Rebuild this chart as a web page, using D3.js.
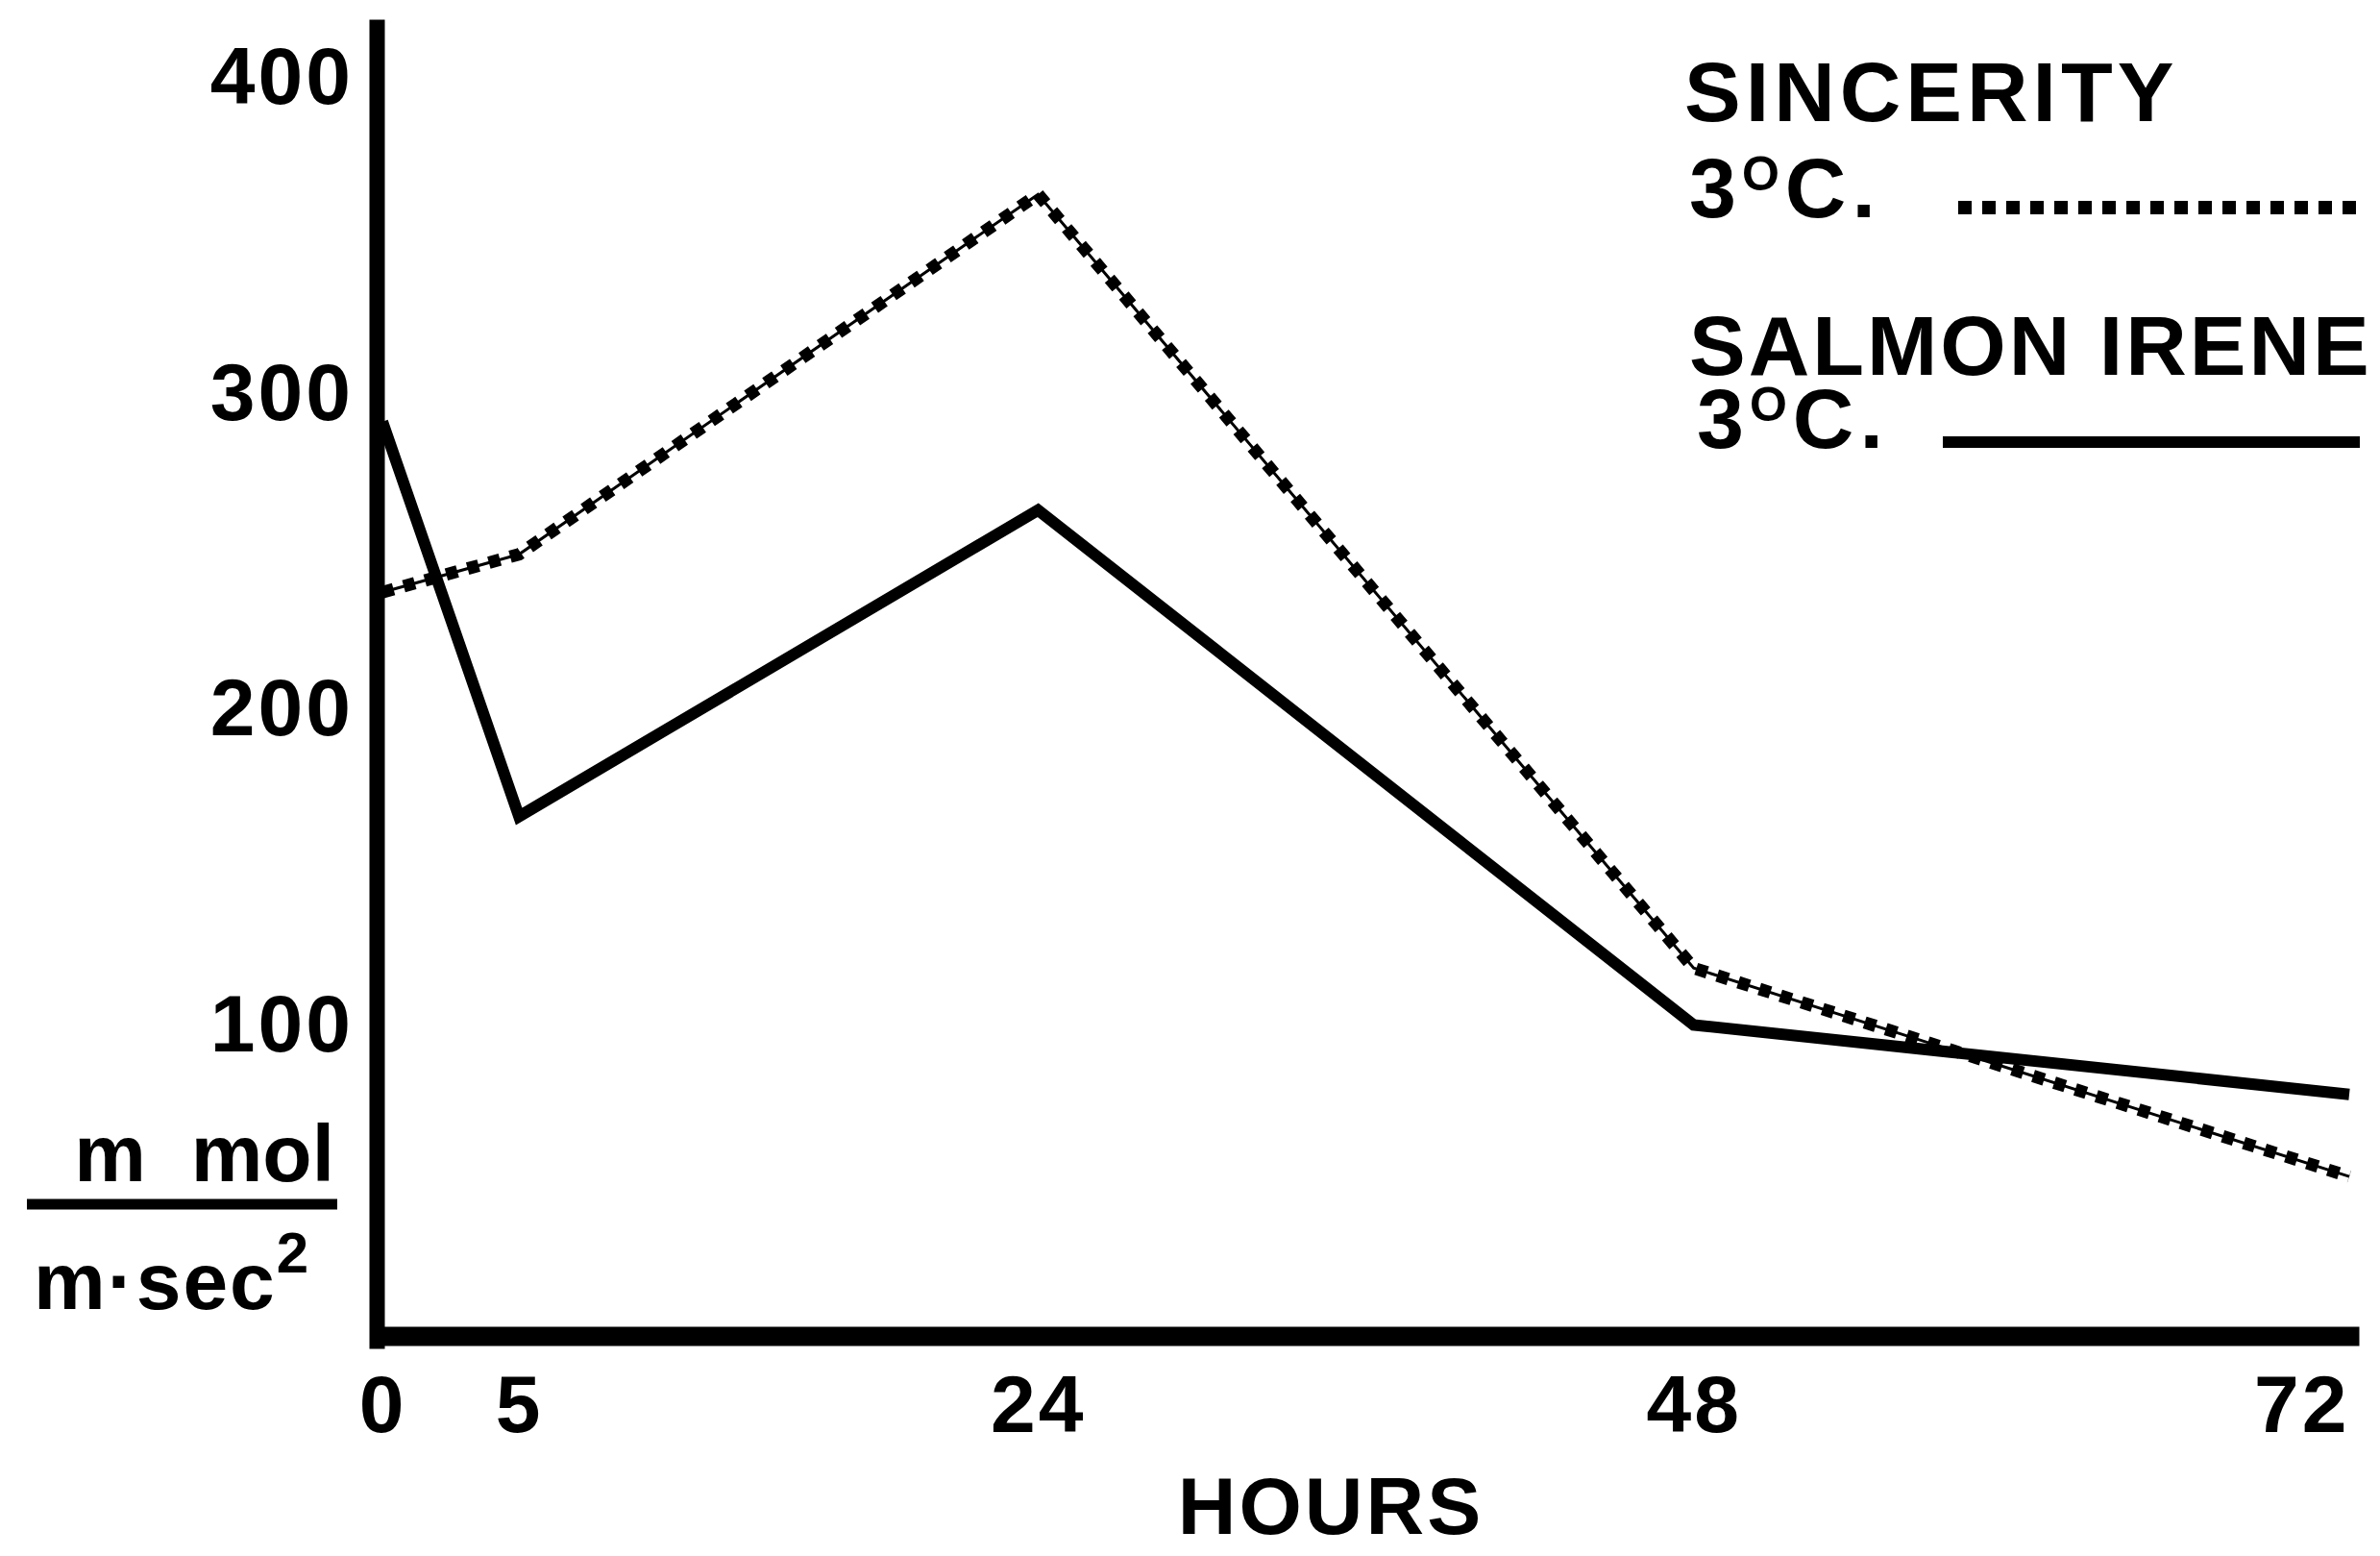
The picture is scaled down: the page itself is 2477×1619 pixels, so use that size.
<!DOCTYPE html>
<html>
<head>
<meta charset="utf-8">
<script src="https://cdn.jsdelivr.net/npm/d3@7"></script>
<style>
  body { margin: 0; background: #fff; }
  text { font-family: "Liberation Sans", Arial, Helvetica, sans-serif; fill: #000; font-weight: bold; }
</style>
</head>
<body>
<div id="chart"></div>
<script>
// values
const hours = [0, 5, 24, 48, 72];
const sincerity = [237, 249, 363, 118, 52];
const salmonIrene = [291, 166, 263, 100, 78];
const yTicks = [100, 200, 300, 400];
const xTicks = [0, 5, 24, 48, 72];
const legendNames = ["SINCERITY", "SALMON IRENE"];

const width = 2477, height = 1619;

const svg = d3.select("#chart").append("svg")
    .attr("width", width)
    .attr("height", height)
    .attr("viewBox", [0, 0, width, height]);

const xScale = d3.scaleLinear([0, 72], [398, 2445]);
const yScale = d3.scaleLinear([0, 416], [1395, 28]);

const fontSize = 84;

// y axis
const yAxis = svg.append("g")
    .attr("transform", "translate(392, 0)")
    .call(d3.axisLeft(yScale).tickValues(yTicks).tickSize(0).tickPadding(24));
yAxis.select(".domain")
    .attr("stroke", "#000")
    .attr("stroke-width", 16)
    .attr("stroke-linecap", "square");
yAxis.selectAll("text")
    .attr("font-size", fontSize)
    .attr("letter-spacing", 3)
    .attr("font-family", null);

// x axis
const xAxis = svg.append("g")
    .attr("transform", "translate(0, 1390)")
    .call(d3.axisBottom(xScale).tickValues(xTicks).tickSize(0).tickSizeOuter(0).tickPadding(40));
xAxis.select(".domain")
    .attr("stroke", "#000")
    .attr("stroke-width", 20)
    .attr("stroke-linecap", "square");
xAxis.selectAll("text")
    .attr("font-size", fontSize)
    .attr("letter-spacing", 3)
    .attr("font-family", null)
    .attr("text-anchor", d => d == 72 ? "end" : "middle");

svg.append("text")
    .attr("x", 1385)
    .attr("y", 1596)
    .attr("text-anchor", "middle")
    .attr("font-size", fontSize)
    .attr("letter-spacing", 3)
    .text("HOURS");

// unit label as a fraction
svg.append("text")
    .attr("x", 348)
    .attr("y", 1229)
    .attr("text-anchor", "end")
    .attr("font-size", fontSize)
    .style("white-space", "pre")
    .text("m  mol");

svg.append("line")
    .attr("x1", 28).attr("x2", 351)
    .attr("y1", 1253).attr("y2", 1253)
    .attr("stroke", "#000")
    .attr("stroke-width", 11);

const unitBottom = svg.append("text")
    .attr("x", 35)
    .attr("y", 1362)
    .attr("font-size", fontSize)
    .attr("letter-spacing", 2);
unitBottom.append("tspan").text("m\u00b7sec");
unitBottom.append("tspan").attr("dy", -38).attr("font-size", 60).text("2");

// series lines
const lineGen = d3.line()
    .x(d => xScale(d.hour))
    .y(d => yScale(d.value));

const toPoints = values => hours.map((h, i) => ({ hour: h, value: values[i] }));

// dotted series: thin guide line with square dots on it
svg.append("path")
    .attr("fill", "none")
    .attr("stroke", "#000")
    .attr("stroke-width", 3)
    .attr("d", lineGen(toPoints(sincerity)));

svg.append("path")
    .attr("fill", "none")
    .attr("stroke", "#000")
    .attr("stroke-width", 13)
    .attr("stroke-dasharray", "12 11")
    .attr("d", lineGen(toPoints(sincerity)));

svg.append("path")
    .attr("fill", "none")
    .attr("stroke", "#000")
    .attr("stroke-width", 12)
    .attr("stroke-linejoin", "miter")
    .attr("d", lineGen(toPoints(salmonIrene)));

// legend
const legendSize = 88;

function tempLabel(x, y) {
    const t = svg.append("text")
        .attr("x", x)
        .attr("y", y)
        .attr("font-size", legendSize)
        .attr("letter-spacing", 6);
    t.append("tspan").text("3");
    t.append("tspan").attr("dy", -28).attr("font-size", 50).text("O");
    t.append("tspan").attr("dy", 28).text("C.");
}

svg.append("text")
    .attr("x", 1753).attr("y", 126)
    .attr("font-size", legendSize)
    .attr("letter-spacing", 5)
    .text(legendNames[0]);
tempLabel(1758, 226);
svg.append("line")
    .attr("x1", 2038).attr("x2", 2456)
    .attr("y1", 216).attr("y2", 216)
    .attr("stroke", "#000")
    .attr("stroke-width", 14)
    .attr("stroke-dasharray", "14 11");

svg.append("text")
    .attr("x", 1758).attr("y", 390)
    .attr("font-size", legendSize)
    .attr("letter-spacing", 3)
    .text(legendNames[1]);
tempLabel(1766, 466);
svg.append("line")
    .attr("x1", 2022).attr("x2", 2456)
    .attr("y1", 460).attr("y2", 460)
    .attr("stroke", "#000")
    .attr("stroke-width", 12);
</script>
</body>
</html>
